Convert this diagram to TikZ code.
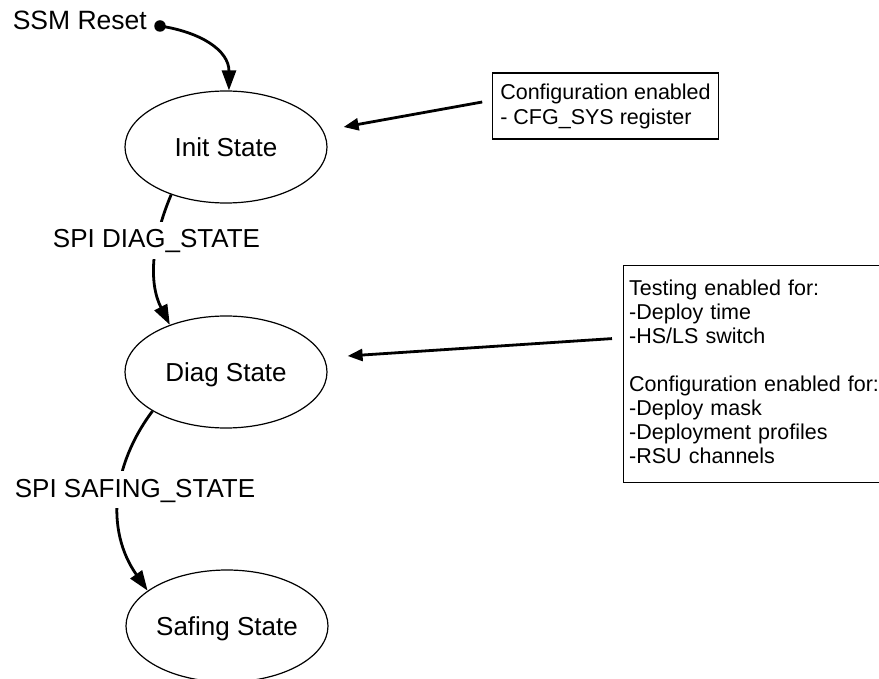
\documentclass[tikz,border=0pt]{standalone}
\usepackage{fontspec}
\setmainfont{Liberation Sans}
\usetikzlibrary{arrows.meta,shapes.geometric,calc}
\begin{document}
\begin{tikzpicture}[x=1pt,y=-1pt,
  txt/.style={inner sep=0pt, font=\fontsize{26.5pt}{30pt}\selectfont},
  state/.style={ellipse, draw, line width=1.2pt, minimum width=202pt, minimum height=112pt,
    inner sep=0pt, font=\fontsize{26pt}{30pt}\selectfont, text height=19pt, text depth=0pt},
  note/.style={draw, line width=1.2pt, align=left, font=\fontsize{21.5pt}{24pt}\selectfont},
  notetext/.style={inner sep=0pt, align=left, font=\fontsize{21.5pt}{24pt}\selectfont},
  trans/.style={line width=2.8pt, -{Triangle[length=20pt,width=14pt]}},
  pointer/.style={line width=2.8pt, -{Triangle[length=15pt,width=12pt]}},
  lbl/.style={fill=white, inner xsep=2pt, inner ysep=7pt, font=\fontsize{26pt}{30pt}\selectfont,
    text height=19pt, text depth=4pt}]
\useasboundingbox (0,0) rectangle (879,679);
\clip (0,0) rectangle (879,679);

% states
\node[txt, anchor=base east] (reset) at (147,30) {SSM Reset};
\node[circle, fill=black, inner sep=0pt, minimum size=11.5pt] (dot) at (160,26) {};
\node[state] (init) at (226,147) {Init State};
\node[state] (diag) at (226,372) {Diag State};
\node[state] (safing) at (227,626) {Safing State};

% notes
\node[note, font=\fontsize{21.5pt}{25pt}\selectfont, minimum height=66pt, inner xsep=7.5pt]
  (cfgbox) at (605.5,106) {Configuration enabled\\- CFG\_SYS register};
\node[draw, line width=1.2pt, minimum width=300pt, minimum height=217pt, inner sep=0pt,
  anchor=north west] (testbox) at (623,265) {};
\node[notetext, text width=280pt, anchor=north west] (testtext) at (629,279.5)
  {Testing enabled for:\\-Deploy time\\-HS/LS switch\\[24pt]Configuration enabled for:\\-Deploy mask\\-Deployment profiles\\-RSU channels};

% transitions
\draw[trans] (dot.center) .. controls (200,32) and (229,50) .. (init.87);
\draw[trans] (init.-139) .. controls (152,240) and (148,282) .. (diag.140);
\draw[trans] (diag.-152) .. controls (112,465) and (105,530) .. (safing.156);

% pointers from notes
\draw[pointer] ($(cfgbox.west)+(-10,-4)$) -- ($(init.east)+(16,-20)$);
\draw[pointer] ($(testbox.west)+(-11,-35.5)$) -- ($(diag.east)+(20,-16)$);

% transition labels
\node[lbl] (diaglbl) at (156.5,240.5) {SPI DIAG\_STATE};
\node[lbl] (saflbl) at (135,489.5) {SPI SAFING\_STATE};
\end{tikzpicture}
\end{document}
